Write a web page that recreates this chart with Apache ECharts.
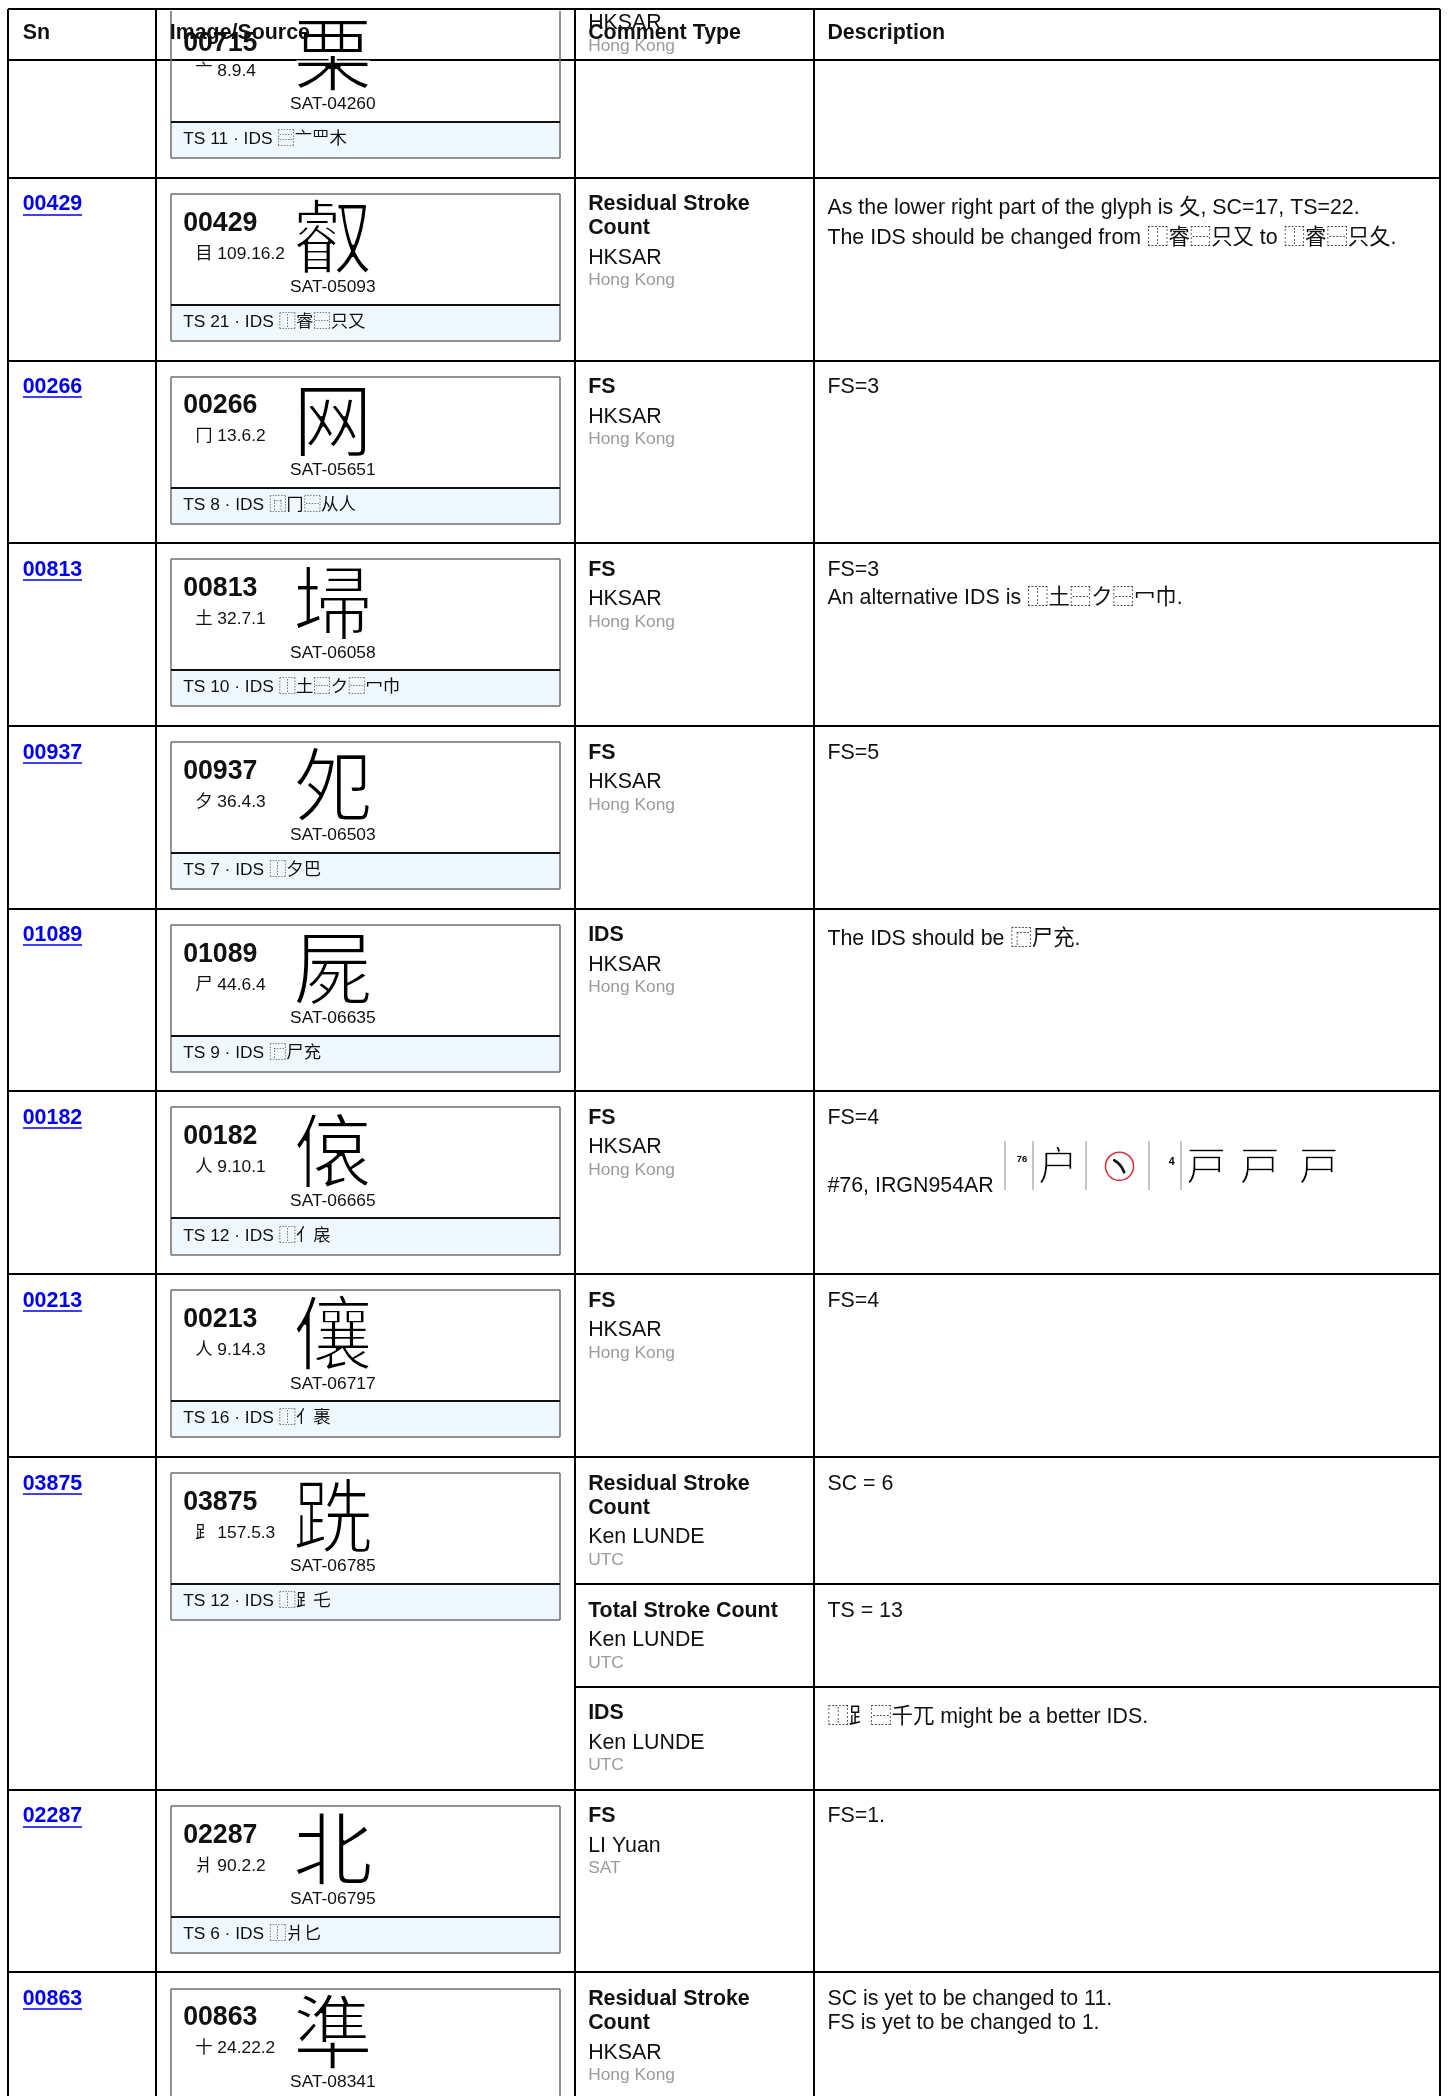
<!DOCTYPE html>
<html>
<head>
<meta charset="utf-8">
<script src="https://cdn.jsdelivr.net/npm/echarts@6/dist/echarts.min.js"></script>
<style>
html,body{margin:0;padding:0;background:#fff;}
#c{width:1449px;height:2096px;}
</style>
</head>
<body>
<div id="c"></div>
<script>
// ---------------- data ----------------
const headers = ['Sn', 'Image/Source', 'Comment Type', 'Description'];
const snList = ['00715','00429','00266','00813','00937','01089','00182','00213','03875','02287','00863'];
const glyphChars = ['栗','叡','网','埽','夗','屍','偯','儴','跣','北','準'];
const radicalLabels = ['亠','目','冂','土','夕','尸','人','人','⻊','爿','十'];
const radicalCodes = ['8.9.4','109.16.2','13.6.2','32.7.1','36.4.3','44.6.4','9.10.1','9.14.3','157.5.3','90.2.2','24.22.2'];
const sourceIds = ['SAT-04260','SAT-05093','SAT-05651','SAT-06058','SAT-06503','SAT-06635','SAT-06665','SAT-06717','SAT-06785','SAT-06795','SAT-08341'];
const totalStrokes = [11, 21, 8, 10, 7, 9, 12, 16, 12, 6, null];
const idsStrings = ['⿳亠罒木','⿰睿⿱只又','⿵冂⿱从人','⿰土⿱ク⿱冖巾','⿰夕巴','⿸尸充','⿰亻扆','⿰亻裹','⿰⻊乇','⿰爿匕', null];
const commentTypes = [
  [''], ['Residual Stroke Count'], ['FS'], ['FS'], ['FS'], ['IDS'], ['FS'], ['FS'],
  ['Residual Stroke Count', 'Total Stroke Count', 'IDS'], ['FS'], ['Residual Stroke Count']
];
const commentAuthors = [
  ['HKSAR'], ['HKSAR'], ['HKSAR'], ['HKSAR'], ['HKSAR'], ['HKSAR'], ['HKSAR'], ['HKSAR'],
  ['Ken LUNDE', 'Ken LUNDE', 'Ken LUNDE'], ['LI Yuan'], ['HKSAR']
];
const commentOrgs = [
  ['Hong Kong'], ['Hong Kong'], ['Hong Kong'], ['Hong Kong'], ['Hong Kong'], ['Hong Kong'], ['Hong Kong'], ['Hong Kong'],
  ['UTC', 'UTC', 'UTC'], ['SAT'], ['Hong Kong']
];
const commentDescs = [
  [[]],
  [['As the lower right part of the glyph is 夂, SC=17, TS=22.', 'The IDS should be changed from ⿰睿⿱只又 to ⿰睿⿱只夂.']],
  [['FS=3']],
  [['FS=3', 'An alternative IDS is ⿰土⿱ク⿱冖巾.']],
  [['FS=5']],
  [['The IDS should be ⿸尸充.']],
  [['FS=4', '#76, IRGN954AR']],
  [['FS=4']],
  [['SC = 6'], ['TS = 13'], ['⿰⻊⿱千兀 might be a better IDS.']],
  [['FS=1.']],
  [['SC is yet to be changed to 11.', 'FS is yet to be changed to 1.']]
];
// inline figure shown after "#76, IRGN954AR"
const figureSn = '00182';
const figureLine = 1;
const figureLabels = ['76', '户', '4', '戸', '戸', '戸'];

// ---------------- layout / style ----------------
const W = 1084, H = 1568;
const K = 1449 / W;
const FONT = '"Liberation Sans", Arial, Helvetica, "Noto Sans CJK SC", sans-serif';
const GLYPH_FONT = '"Noto Sans CJK SC", "Noto Sans CJK JP", sans-serif';
const LINK = '#0000ee', GREY = '#9b9b9b', INK = '#000';
const COLS = [6, 117, 430, 609, 1077];
const TOP = 7, HEAD_BOTTOM = 45, FIRST_ROW_TOP = -3.7, ROW_MIN_H = 136.7;
const CJK_RE = /[\u2E80-\u2FFF\u3000-\u9FFF\uF900-\uFAFF]/;

const mctx = document.createElement('canvas').getContext('2d');
function measure(s, size, weight) {
  mctx.font = (weight || 'normal') + ' ' + size + 'px ' + FONT;
  return mctx.measureText(s).width;
}
function wrapWords(s, size, weight, maxW) {
  if (!s) return [''];
  const words = s.split(' ');
  const out = [];
  let line = '';
  for (const w of words) {
    const t = line ? line + ' ' + w : w;
    if (line && measure(t, size, weight) > maxW) { out.push(line); line = w; }
    else line = t;
  }
  out.push(line);
  return out;
}

const layout = [];
(function () {
  let y = FIRST_ROW_TOP;
  snList.forEach((sn, i) => {
    const subs = [];
    let sy = y;
    commentTypes[i].forEach((t) => {
      const lines = wrapWords(t, 16, 'bold', COLS[3] - COLS[2] - 20);
      const authorY = 20 + 18 * (lines.length - 1) + 22;
      const orgY = authorY + 17;
      const h = orgY + 18;
      subs.push({ top: sy, lines, authorY, orgY, h });
      sy += h;
    });
    const h = Math.max(ROW_MIN_H, sy - y);
    subs[subs.length - 1].h += (y + h) - sy;
    layout.push({ top: y, bottom: y + h, subs });
    y += h;
  });
})();

function txt(api, x, y, s, size, o) {
  o = o || {};
  const p = api.coord([x, y]);
  const fam = o.family || FONT;
  const wt = o.weight || 'normal';
  const al = o.align || 'left';
  const style = {
    text: s,
    font: wt + ' ' + (size * K).toFixed(2) + 'px ' + fam,
    fill: o.color || INK,
    align: al, verticalAlign: 'middle',
    textAlign: al, textVerticalAlign: 'middle'
  };
  if (o.outline) {
    // a white outline drawn on top of the glyph to make its strokes thinner
    style.fill = 'rgba(255,255,255,0)';
    style.stroke = '#fff'; style.lineWidth = o.outline;
    style.textStroke = '#fff'; style.textStrokeWidth = o.outline;
  }
  return { type: 'text', x: p[0], y: p[1], silent: true, style };
}

function makeHelpers(api, ch) {
  const P = (x, y) => api.coord([x, y]);
  const visible = (y, size) => y - size * 0.45 >= TOP + 1;
  return {
    P,
    text(x, y, s, size, o) {
      if (s === '' || s == null || !visible(y, size)) return;
      ch.push(txt(api, x, y, s, size, o));
    },
    glyph(x, y, s, size, thin) {
      ch.push(txt(api, x, y, s, size, { family: GLYPH_FONT, align: 'center' }));
      ch.push(txt(api, x, y, s, size, { family: GLYPH_FONT, align: 'center', outline: thin }));
    },
    line(x1, y1, x2, y2, color, lw, cap) {
      const a = P(x1, y1), b = P(x2, y2);
      ch.push({ type: 'line', silent: true,
        shape: { x1: Math.round(a[0]), y1: Math.round(a[1]), x2: Math.round(b[0]), y2: Math.round(b[1]) },
        style: { stroke: color, lineWidth: lw, lineCap: cap || 'butt' } });
    },
    curve(x1, y1, cx, cy, x2, y2, color, lw) {
      const a = P(x1, y1), c = P(cx, cy), b = P(x2, y2);
      ch.push({ type: 'bezierCurve', silent: true,
        shape: { x1: a[0], y1: a[1], cpx1: c[0], cpy1: c[1], x2: b[0], y2: b[1] },
        style: { stroke: color, lineWidth: lw, lineCap: 'round', fill: 'none' } });
    },
    rect(x1, y1, x2, y2, fill) {
      const a = P(x1, y1), b = P(x2, y2);
      ch.push({ type: 'rect', silent: true,
        shape: { x: a[0], y: a[1], width: b[0] - a[0], height: b[1] - a[1] },
        style: { fill: fill } });
    },
    circle(cx, cy, r, color, lw) {
      const a = P(cx, cy);
      ch.push({ type: 'circle', silent: true, shape: { cx: a[0], cy: a[1], r: r * K },
        style: { fill: 'none', stroke: color, lineWidth: lw } });
    }
  };
}

function renderGrid(params, api) {
  const ch = [];
  const h = makeHelpers(api, ch);
  h.line(COLS[0], TOP, COLS[4], TOP, INK, 2);
  h.line(COLS[0], HEAD_BOTTOM, COLS[4], HEAD_BOTTOM, INK, 2);
  layout.forEach((L, i) => {
    if (i > 0) h.line(COLS[0], L.top, COLS[4], L.top, INK, 2);
    L.subs.forEach((s, c) => { if (c > 0) h.line(COLS[2], s.top, COLS[4], s.top, INK, 2); });
  });
  COLS.forEach(x => h.line(x, TOP, x, H + 10, INK, 2));
  return { type: 'group', children: ch };
}

function renderRow(params, api) {
  const i = params.dataIndex, L = layout[i], T = L.top;
  // first row is scrolled under the header in the source view: its text columns sit higher
  const shift = i === 0 ? -21 : 0;
  const ch = [];
  const h = makeHelpers(api, ch);
  const sn = snList[i];

  // Sn link
  const ly = T + 20 + shift;
  if (ly - 7 >= TOP + 1) {
    h.text(COLS[0] + 11, ly, sn, 16, { weight: 'bold', color: LINK });
    const w = measure(sn, 16, 'bold');
    h.line(COLS[0] + 11, ly + 7.5, COLS[0] + 11 + w, ly + 7.5, LINK, 1.5);
  }

  // image / source card
  const cx0 = COLS[1] + 11, cx1 = COLS[2] - 11;
  const cTop = T + 12, cDiv = T + 95, cBot = T + 122;
  h.rect(cx0, cDiv, cx1, cBot, '#f0f8ff');
  const vTop = Math.max(cTop, TOP + 1);
  if (cTop >= TOP + 2) h.line(cx0, cTop, cx1, cTop, '#6e6e6e', 1.5);
  h.line(cx0, vTop, cx0, cBot, '#6e6e6e', 1.5);
  h.line(cx1, vTop, cx1, cBot, '#6e6e6e', 1.5);
  h.line(cx0, cBot, cx1, cBot, '#6e6e6e', 1.5);
  h.line(cx0, cDiv, cx1, cDiv, '#111', 2);
  h.text(cx0 + 9, T + 34 + (i === 0 ? 2 : 0), sn, 20, { weight: 'bold', color: '#111' });
  h.text(cx0 + 18, T + 57, radicalLabels[i] + ' ' + radicalCodes[i], 13, { color: '#111' });
  h.glyph(cx0 + 121, T + 44, glyphChars[i], 60, 2.2);
  h.text(cx0 + 121, T + 82, sourceIds[i], 13, { align: 'center', color: '#111' });
  if (totalStrokes[i] != null) {
    h.text(cx0 + 9, T + 108, 'TS ' + totalStrokes[i] + ' · IDS ' + idsStrings[i], 13, { color: '#111' });
  }

  // comments
  L.subs.forEach((s, c) => {
    const st = s.top + shift;
    s.lines.forEach((ln, k) => h.text(COLS[2] + 10, st + 20 + 18 * k, ln, 16, { weight: 'bold', color: '#111' }));
    h.text(COLS[2] + 10, st + s.authorY, commentAuthors[i][c], 16, { color: '#111' });
    h.text(COLS[2] + 10, st + s.orgY, commentOrgs[i][c], 13, { color: GREY });

    let cur = st + 10;
    commentDescs[i][c].forEach((d, k) => {
      if (sn === figureSn && c === 0 && k === figureLine) {
        h.text(COLS[3] + 10, cur + 43, d, 16, { color: '#111' });
        drawFigure(h, COLS[3] + 10 + measure(d, 16) + 6, cur + 8);
        cur += 48;
        return;
      }
      const cjk = CJK_RE.test(d);
      const lh = cjk ? 22 : 18;
      h.text(COLS[3] + 10, cur + lh / 2 + (cjk ? 2 : 1), d, 16, { color: '#111' });
      cur += lh;
    });
  });
  return { type: 'group', children: ch };
}

function drawFigure(h, x0, y0) {
  [2, 23, 63, 110, 134].forEach(dx => h.line(x0 + dx, y0 + 1, x0 + dx, y0 + 38, '#8a8a8a', 1));
  h.text(x0 + 15, y0 + 15, figureLabels[0], 7, { weight: 'bold', align: 'center' });
  h.glyph(x0 + 42, y0 + 19, figureLabels[1], 30, 1.3);
  h.circle(x0 + 88, y0 + 20, 10.5, '#d9363e', 1.6);
  h.curve(x0 + 84, y0 + 15.5, x0 + 89, y0 + 18, x0 + 91.5, y0 + 24.5, '#111', 2.6);
  h.text(x0 + 127, y0 + 17, figureLabels[2], 8, { weight: 'bold', align: 'center' });
  h.glyph(x0 + 153, y0 + 19, figureLabels[3], 30, 1.3);
  h.glyph(x0 + 193, y0 + 19, figureLabels[4], 30, 1.3);
  h.glyph(x0 + 237, y0 + 19, figureLabels[5], 30, 1.3);
}

function renderHeader(params, api) {
  const i = params.dataIndex;
  return txt(api, COLS[i] + (i === 0 ? 11 : 10), 25, headers[i], 16, { weight: 'bold', color: '#111' });
}

const chart = echarts.init(document.getElementById('c'), null, { renderer: 'canvas', width: 1449, height: 2096 });
chart.setOption({
  animation: false,
  backgroundColor: '#fff',
  grid: { left: 0, right: 0, top: 0, bottom: 0 },
  xAxis: { type: 'value', min: 0, max: W, show: false },
  yAxis: { type: 'value', min: 0, max: H, inverse: true, show: false },
  series: [
    { type: 'custom', name: 'grid', data: [[0, 0]], renderItem: renderGrid, clip: false, silent: true, z: 1 },
    { type: 'custom', name: 'rows', data: snList.map((s, i) => [0, i]), renderItem: renderRow, clip: false, silent: true, z: 2 },
    { type: 'custom', name: 'header', data: headers.map((s, i) => [i, 0]), renderItem: renderHeader, clip: false, silent: true, z: 3 }
  ]
});
</script>
</body>
</html>
